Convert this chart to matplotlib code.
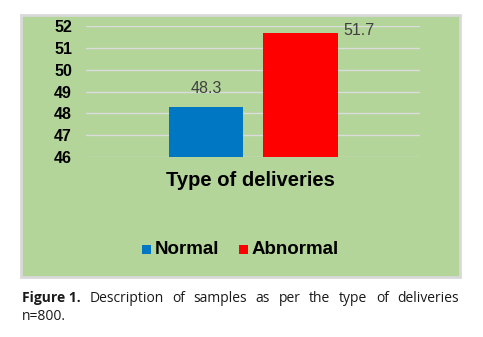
import matplotlib
matplotlib.use("Agg")
import matplotlib.pyplot as plt
from matplotlib.patches import Rectangle

categories = ["Normal", "Abnormal"]
values = [48.3, 51.7]
colors = ["#0077c2", "#ff0000"]
yticks = [46, 47, 48, 49, 50, 51, 52]

W, H = 483, 337
fig = plt.figure(figsize=(W / 100, H / 100), dpi=100)
fig.patch.set_facecolor("white")


def fx(px):
    return px / W


def fy(py):
    return 1 - py / H


# green chart area with a light grey frame
fig.patches.append(Rectangle((fx(21), fy(277)), fx(439), 262 / H, transform=fig.transFigure,
                             facecolor="#b3d59a", edgecolor="#d9d9d9", linewidth=2, zorder=-5))

ax = fig.add_axes([fx(86), fy(157), fx(334), 131 / H])
ax.set_facecolor("none")
x = [0, 1]
bars = ax.bar(x, [v - 46 for v in values], bottom=46, width=0.79, color=colors, zorder=3)
ax.set_xlim(-1.27, 2.265)
ax.set_ylim(46, 52)
ax.set_yticks(yticks)
ax.set_yticklabels([str(t) for t in yticks], fontsize=11.5, fontweight="bold",
                   family="Liberation Sans", color="black")
ax.tick_params(axis="y", length=0, pad=10)
ax.set_xticks([])
for s in ax.spines.values():
    s.set_visible(False)
ax.grid(axis="y", color="#dcdcdc", linewidth=1, zorder=1)

# value labels
ax.text(x[0], values[0] + 0.5, f"{values[0]}", ha="center", va="bottom", fontsize=11.5,
        color="#404040", family="Liberation Sans")
ax.text(x[1] + 0.45, values[1] + 0.1, f"{values[1]}", ha="left", va="center", fontsize=11.5,
        color="#404040", family="Liberation Sans")

fig.text(fx(250), fy(181), "Type of deliveries", ha="center", va="center", fontsize=14.5,
         fontweight="bold", family="Liberation Sans")

# legend
leg_y = fy(250)
fig.patches.append(Rectangle((fx(142), fy(254)), fx(9), 9 / H, transform=fig.transFigure,
                             facecolor=colors[0], edgecolor="none"))
fig.text(fx(155), leg_y, categories[0], ha="left", va="center", fontsize=13.5,
         fontweight="bold", family="Liberation Sans")
fig.patches.append(Rectangle((fx(239), fy(254)), fx(9), 9 / H, transform=fig.transFigure,
                             facecolor=colors[1], edgecolor="none"))
fig.text(fx(252), leg_y, categories[1], ha="left", va="center", fontsize=13.5,
         fontweight="bold", family="Liberation Sans")

# justified caption line
renderer = fig.canvas.get_renderer()
words = [("Figure 1.", "bold"), ("Description", "normal"), ("of", "normal"), ("samples", "normal"),
         ("as", "normal"), ("per", "normal"), ("the", "normal"), ("type", "normal"),
         ("of", "normal"), ("deliveries", "normal")]
cap_y = fy(298)
texts = []
total = 0
for w, wt in words:
    t = fig.text(0, cap_y, w, ha="left", va="center", fontsize=10, fontweight=wt,
                 family="Open Sans", color="#1a1a1a")
    bb = t.get_window_extent(renderer)
    texts.append((t, bb.width))
    total += bb.width
gap = (437 - total) / (len(words) - 1)
pos = 22
for t, wd in texts:
    t.set_x(fx(pos))
    pos += wd + gap
fig.text(fx(22), fy(317), "n=800.", ha="left", va="center", fontsize=10,
         family="Open Sans", color="#1a1a1a")

fig.savefig("out.png", dpi=100)
